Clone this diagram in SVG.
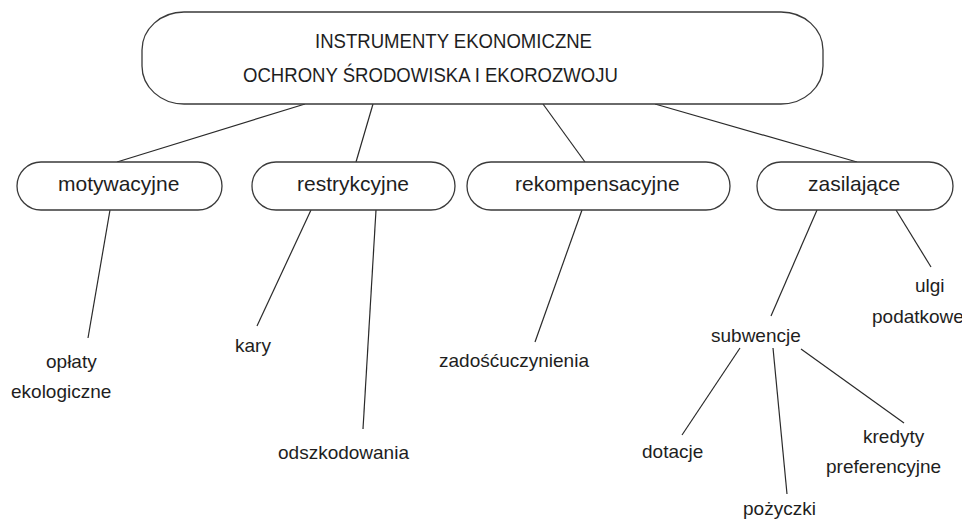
<svg xmlns="http://www.w3.org/2000/svg" width="962" height="520" viewBox="0 0 962 520">
  <style>
    .box { fill: #ffffff; stroke: #3a3a3a; stroke-width: 1.3; }
    .edge { stroke: #2a2a2a; stroke-width: 1.2; fill: none; }
    .head { font-family: "Liberation Sans", Arial, sans-serif; font-size: 20px; fill: #1e1e1e; }
    .cat { font-family: "Liberation Sans", Arial, sans-serif; font-size: 21px; fill: #1e1e1e; }
    .leaf { font-family: "Liberation Sans", Arial, sans-serif; font-size: 19px; fill: #1e1e1e; }
  </style>
  <rect width="962" height="520" fill="#ffffff"/>

  <!-- connectors -->
  <g id="connectors">
    <line class="edge" x1="305" y1="104" x2="117" y2="162"/>
    <line class="edge" x1="373" y1="104" x2="356" y2="162"/>
    <line class="edge" x1="543" y1="104" x2="585" y2="162"/>
    <line class="edge" x1="655" y1="104" x2="857" y2="162"/>
    <line class="edge" x1="110" y1="210" x2="88" y2="338"/>
    <line class="edge" x1="311" y1="210" x2="257" y2="326"/>
    <line class="edge" x1="376" y1="210" x2="363" y2="429"/>
    <line class="edge" x1="582" y1="210" x2="535" y2="342"/>
    <line class="edge" x1="817" y1="210" x2="771" y2="316"/>
    <line class="edge" x1="896" y1="210" x2="931" y2="267"/>
    <line class="edge" x1="740" y1="348" x2="682" y2="435"/>
    <line class="edge" x1="773" y1="348" x2="787" y2="494"/>
    <line class="edge" x1="801" y1="349" x2="904" y2="423"/>
  </g>

  <!-- root -->
  <g id="root">
    <rect class="box" x="142" y="12" width="681" height="92" rx="42" ry="38"/>
    <text class="head" x="315" y="48" textLength="277" lengthAdjust="spacingAndGlyphs">INSTRUMENTY EKONOMICZNE</text>
    <text class="head" x="243" y="82" textLength="375" lengthAdjust="spacingAndGlyphs">OCHRONY ŚRODOWISKA I EKOROZWOJU</text>
  </g>

  <!-- categories -->
  <g id="motywacyjne">
    <rect class="box" x="17" y="162" width="205" height="48" rx="24"/>
    <text class="cat" x="58" y="191">motywacyjne</text>
  </g>
  <g id="restrykcyjne">
    <rect class="box" x="252" y="162" width="203" height="48" rx="24"/>
    <text class="cat" x="297" y="191">restrykcyjne</text>
  </g>
  <g id="rekompensacyjne">
    <rect class="box" x="467" y="162" width="263" height="48" rx="24"/>
    <text class="cat" x="515" y="191">rekompensacyjne</text>
  </g>
  <g id="zasilajace">
    <rect class="box" x="757" y="162" width="196" height="48" rx="24"/>
    <text class="cat" x="808" y="191">zasilające</text>
  </g>

  <!-- leaves -->
  <g id="oplaty">
    <text class="leaf" x="46" y="368">opłaty</text>
    <text class="leaf" x="11" y="398">ekologiczne</text>
  </g>
  <g id="kary">
    <text class="leaf" x="235" y="352">kary</text>
  </g>
  <g id="odszkodowania">
    <text class="leaf" x="278" y="459">odszkodowania</text>
  </g>
  <g id="zadoscuczynienia">
    <text class="leaf" x="439" y="367">zadośćuczynienia</text>
  </g>
  <g id="subwencje">
    <text class="leaf" x="711" y="342">subwencje</text>
  </g>
  <g id="ulgi">
    <text class="leaf" x="915" y="292">ulgi</text>
    <text class="leaf" x="872" y="323">podatkowe</text>
  </g>
  <g id="dotacje">
    <text class="leaf" x="642" y="458">dotacje</text>
  </g>
  <g id="pozyczki">
    <text class="leaf" x="743" y="515">pożyczki</text>
  </g>
  <g id="kredyty">
    <text class="leaf" x="863" y="443">kredyty</text>
    <text class="leaf" x="826" y="473">preferencyjne</text>
  </g>
</svg>
